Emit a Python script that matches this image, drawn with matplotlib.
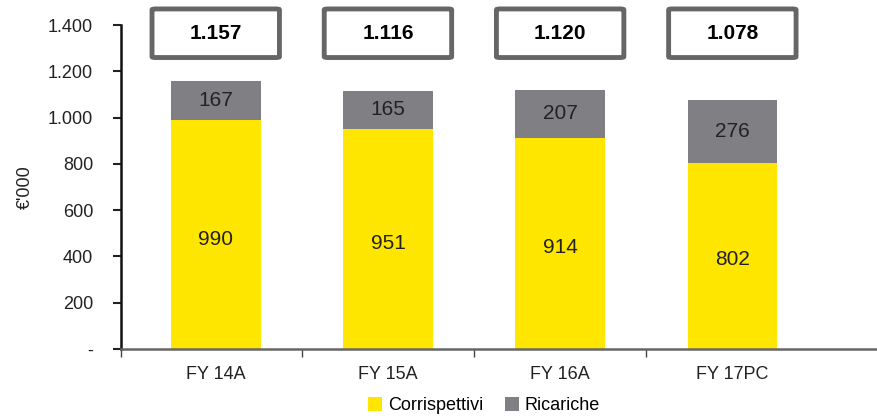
import numpy as np
import matplotlib.pyplot as plt
from matplotlib.patches import FancyBboxPatch
from matplotlib.ticker import FuncFormatter

plt.rcParams['font.family'] = ['Liberation Sans', 'DejaVu Sans']

categories = ['FY 14A', 'FY 15A', 'FY 16A', 'FY 17PC']
corrispettivi = [990, 951, 914, 802]
ricariche = [167, 165, 207, 276]
totals = ['1.157', '1.116', '1.120', '1.078']

yellow = '#FFE600'
grey = '#808084'

fig = plt.figure(figsize=(8.77, 4.19), dpi=100)
ax = fig.add_axes([0.138, 0.167, 0.862, 0.773])

x = np.arange(len(categories))
w = 0.52
ax.bar(x, corrispettivi, w, color=yellow, label='Corrispettivi')
ax.bar(x, ricariche, w, bottom=corrispettivi, color=grey, label='Ricariche')

for i in range(len(categories)):
    ax.text(x[i], corrispettivi[i] * 0.48, str(corrispettivi[i]), ha='center', va='center',
            fontsize=15, color='#222222')
    ax.text(x[i], corrispettivi[i] + ricariche[i] / 2, str(ricariche[i]), ha='center', va='center',
            fontsize=15, color='#222222')
    box = FancyBboxPatch((x[i] - 0.37, 1260), 0.74, 210,
                         boxstyle='round,pad=0,rounding_size=0.02', mutation_aspect=200,
                         facecolor='white', edgecolor='#666666', linewidth=3.5, clip_on=False)
    ax.add_patch(box)
    ax.text(x[i], 1365, totals[i], ha='center', va='center', fontsize=15,
            fontweight='bold', clip_on=False)

ax.set_ylim(0, 1400)
ax.set_xlim(-0.55, 3.84)
ax.set_yticks(np.arange(0, 1401, 200))
ax.yaxis.set_major_formatter(FuncFormatter(
    lambda v, p: '-' if v == 0 else f'{int(v):,}'.replace(',', '.')))
ax.set_xticks(x)
ax.set_xticklabels(categories)
ax.set_xticks([-0.55, 0.5, 1.5, 2.5], minor=True)
ax.tick_params(axis='x', which='major', length=0, labelsize=13, pad=12, colors='#222222')
ax.tick_params(axis='x', which='minor', length=6, width=1, color='#444444')
ax.tick_params(axis='y', length=6, width=1.5, labelsize=13, pad=14, colors='#222222')

for s in ['top', 'right']:
    ax.spines[s].set_visible(False)
ax.spines['left'].set_linewidth(1.8)
ax.spines['left'].set_color('#111111')
ax.spines['bottom'].set_linewidth(1.8)
ax.spines['bottom'].set_color('#666666')

ax.set_ylabel("€'000", fontsize=13, labelpad=10, color='#222222')

ax.legend(loc='center', bbox_to_anchor=(0.48, -0.175), ncol=2, frameon=False,
          fontsize=13, handlelength=0.8, handleheight=0.8, handletextpad=0.3,
          columnspacing=1.2, borderpad=0)

fig.savefig('out.png', dpi=100)
